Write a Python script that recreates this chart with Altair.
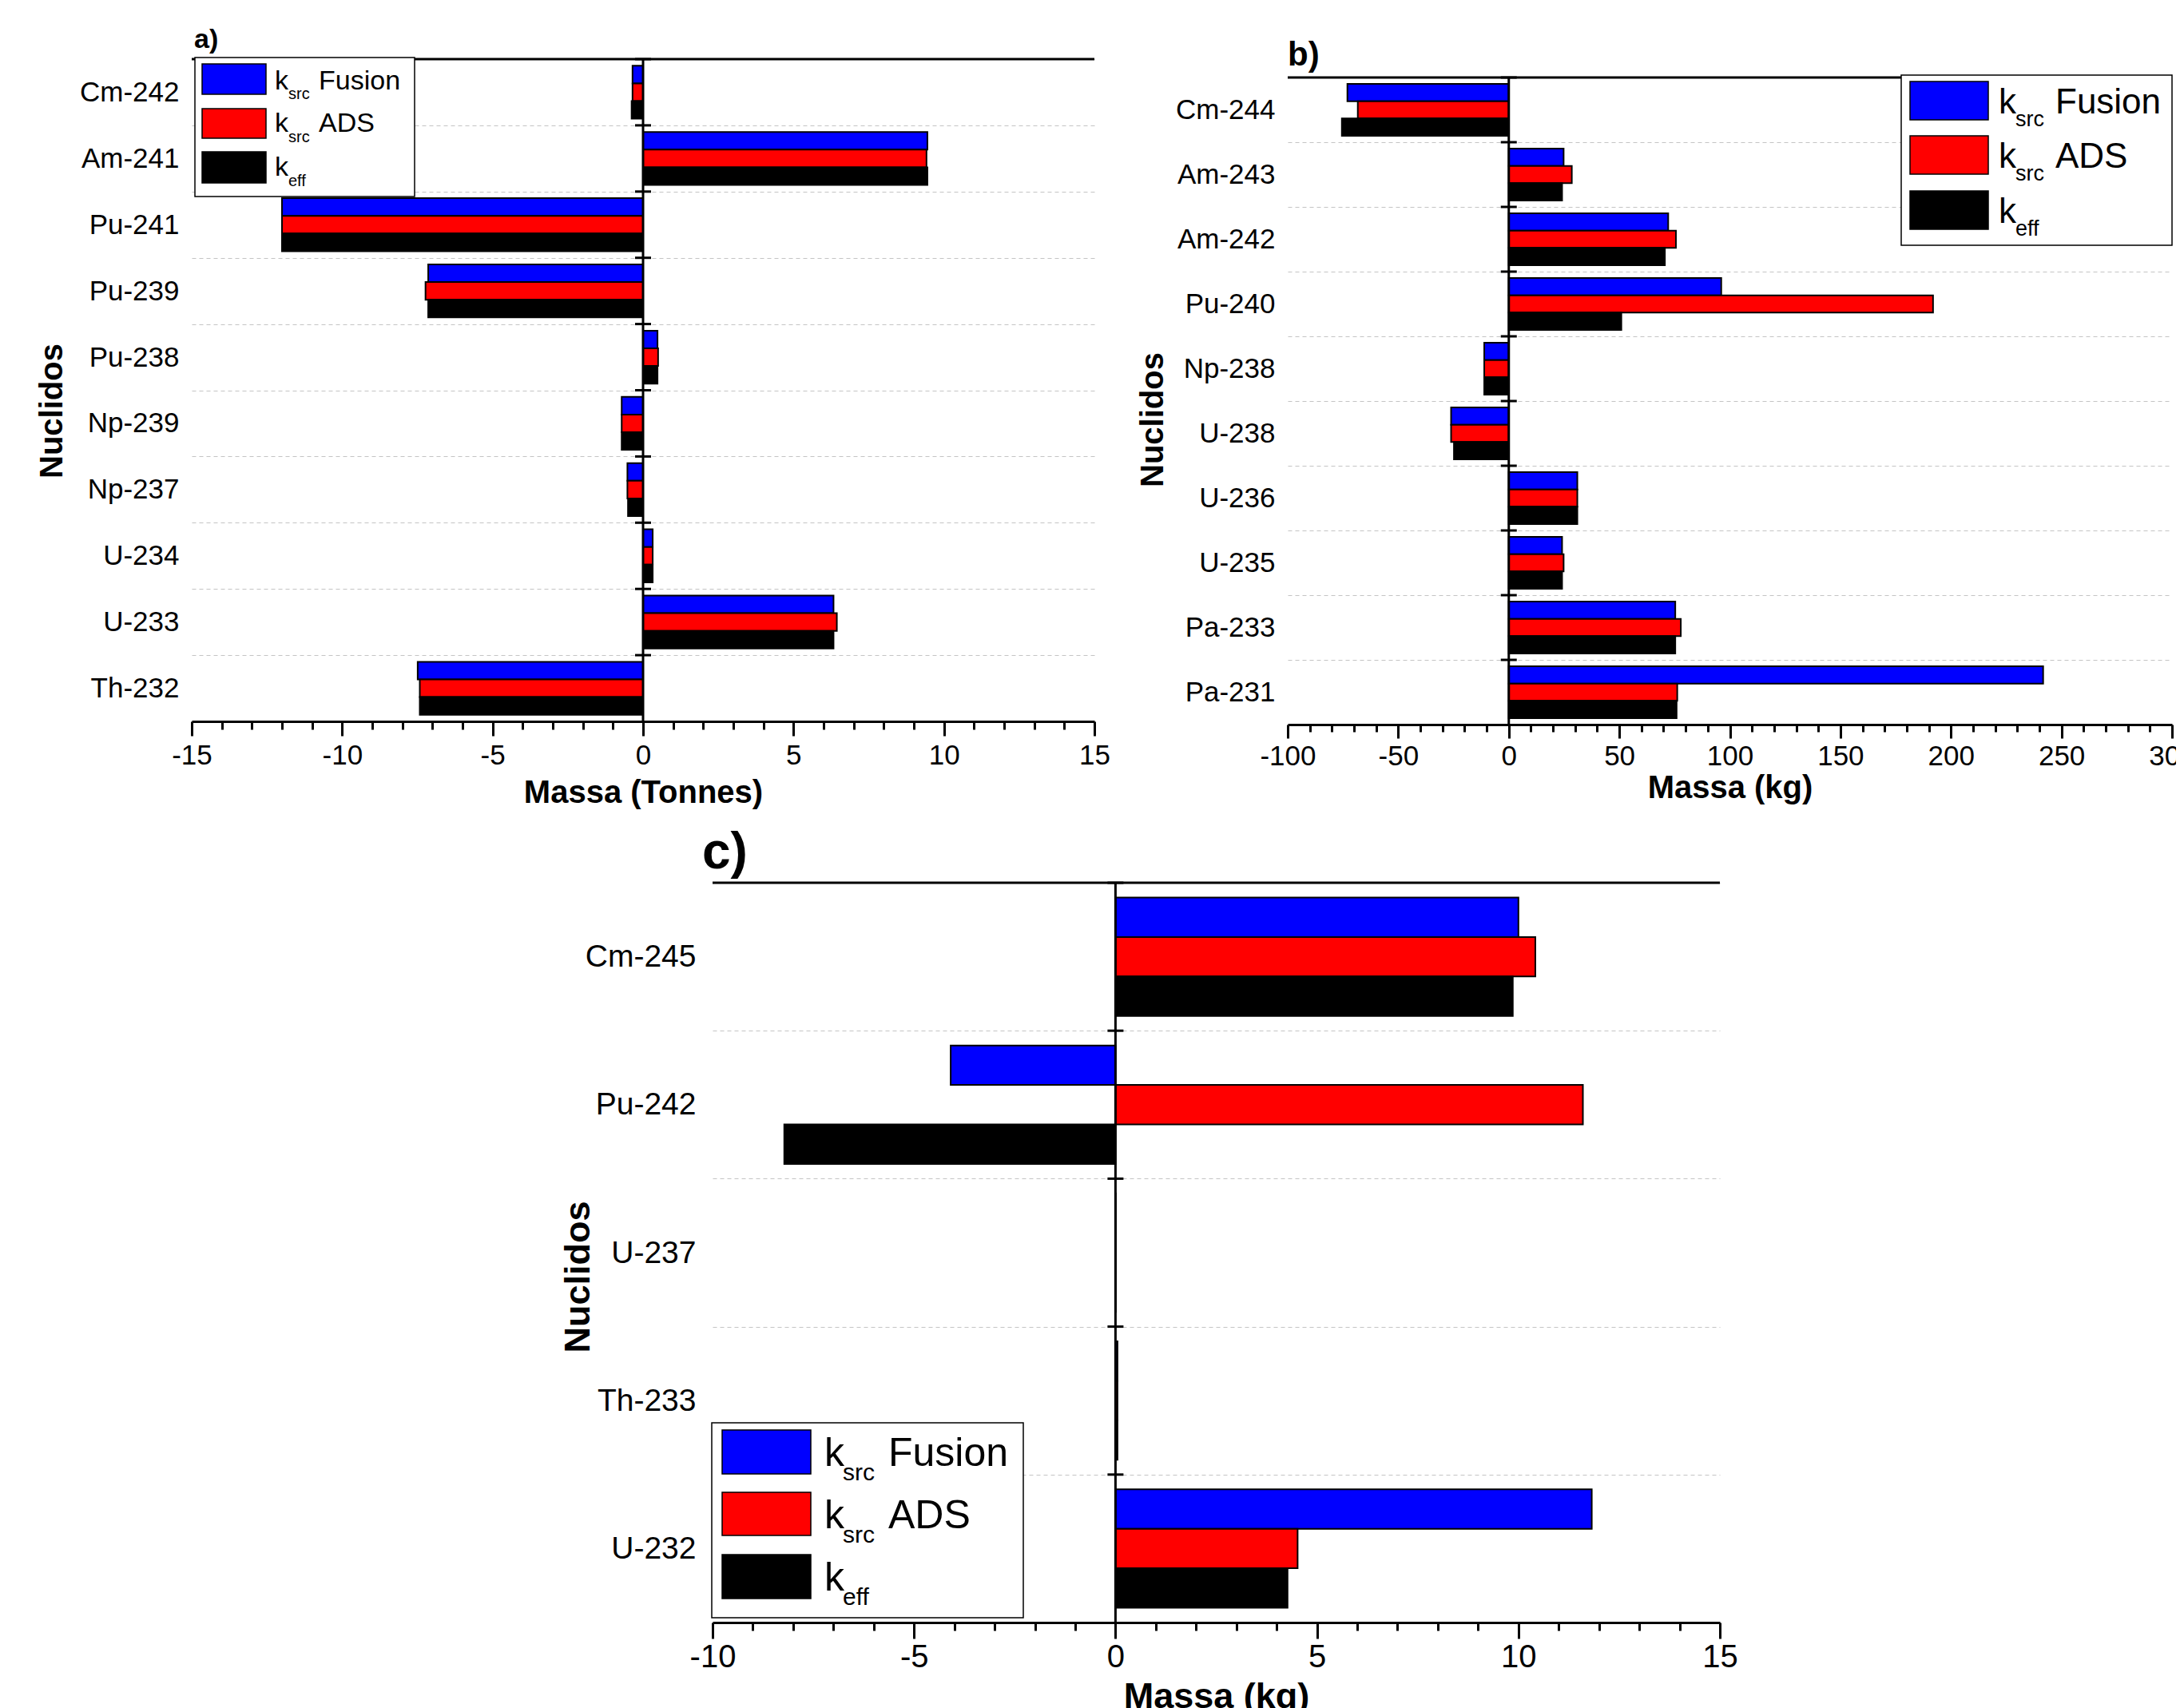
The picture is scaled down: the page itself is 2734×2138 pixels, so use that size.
import altair as alt
import pandas as pd

FONT = "Liberation Sans"

# ---------------- data ----------------
series = ["ksrc Fusion", "ksrc ADS", "keff"]
series_colors = ["#0000ff", "#ff0000", "#000000"]
legend_main = ["k", "k", "k"]
legend_sub = ["src", "src", "eff"]
legend_name = ["Fusion", "ADS", ""]

a_cats = ["Cm-242", "Am-241", "Pu-241", "Pu-239", "Pu-238", "Np-239", "Np-237", "U-234", "U-233", "Th-232"]
a_fusion = [-0.35, 9.45, -12.0, -7.14, 0.48, -0.71, -0.52, 0.32, 6.33, -7.49]
a_ads = [-0.35, 9.42, -12.0, -7.23, 0.50, -0.71, -0.52, 0.32, 6.44, -7.42]
a_keff = [-0.38, 9.45, -12.0, -7.14, 0.48, -0.71, -0.50, 0.32, 6.33, -7.42]

b_cats = ["Cm-244", "Am-243", "Am-242", "Pu-240", "Np-238", "U-238", "U-236", "U-235", "Pa-233", "Pa-231"]
b_fusion = [-73.0, 24.8, 72.1, 96.1, -11.1, -26.1, 31.0, 24.1, 75.3, 241.7]
b_ads = [-68.3, 28.5, 75.6, 191.9, -11.1, -26.1, 31.0, 24.8, 77.8, 76.2]
b_keff = [-75.5, 24.1, 70.6, 50.9, -11.1, -24.8, 31.0, 24.1, 75.3, 75.9]

c_cats = ["Cm-245", "Pu-242", "U-237", "Th-233", "U-232"]
c_fusion = [10.0, -4.09, 0.01, 0.05, 11.82]
c_ads = [10.42, 11.6, 0.01, 0.05, 4.52]
c_keff = [9.86, -8.22, 0.01, 0.05, 4.27]

ONE = pd.DataFrame({"v": [0]})


def long_df(cats, f, a, k):
    rows = []
    for i, c in enumerate(cats):
        for s, v in zip(series, (f[i], a[i], k[i])):
            rows.append({"cat": c, "series": s, "value": v})
    return pd.DataFrame(rows)


def text_layer(txt, x, y, size, weight="normal"):
    return alt.Chart(ONE).mark_text(text=txt, font=FONT, fontSize=size, fontWeight=weight,
                                    align="left", baseline="alphabetic", color="black").encode(
        x=alt.value(x), y=alt.value(y))


def legend_layers(cfg):
    layers = []
    x0, x1, y0, y1 = cfg["box"]
    layers.append(alt.Chart(ONE).mark_rect(fill="white", stroke="black", strokeWidth=1.5).encode(
        x=alt.value(x0), x2=alt.value(x1), y=alt.value(y0), y2=alt.value(y1)))
    sx0, sx1 = cfg["swatch_x"]
    for i in range(3):
        ry0, ry1, base, subbase = cfg["rows"][i]
        layers.append(alt.Chart(ONE).mark_rect(fill=series_colors[i], stroke="black", strokeWidth=1.5).encode(
            x=alt.value(sx0), x2=alt.value(sx1), y=alt.value(ry0), y2=alt.value(ry1)))
        layers.append(text_layer(legend_main[i], cfg["kx"], base, cfg["fs"]))
        layers.append(text_layer(legend_sub[i], cfg["sx"], subbase, cfg["sfs"]))
        if legend_name[i]:
            layers.append(text_layer(legend_name[i], cfg["nx"], base, cfg["fs"]))
    return layers


def panel(cats, f, a, k, p):
    df = long_df(cats, f, a, k)
    W, H, y0 = p["W"], p["H"], p["y0"]
    lo, hi = p["dom"]
    bw = (H - y0) / len(cats)
    xscale = alt.Scale(domain=[lo, hi], nice=False)
    yscale = alt.Scale(domain=cats, range=[y0, H], paddingInner=0, paddingOuter=0)
    tick_vals = list(range(lo, hi + 1, p["minor"]))
    major = p["major"]
    xaxis = alt.Axis(
        values=tick_vals,
        labelExpr=f"datum.value % {major} == 0 ? toString(datum.value) : ''",
        tickSize={"condition": {"test": f"datum.value % {major} == 0", "value": p["tmaj"]}, "value": p["tmin"]},
        tickWidth=3, tickColor="black", domainWidth=3, domainColor="black",
        labelFont=FONT, labelFontSize=p["lfs"], labelColor="black", labelPadding=p["xlp"],
        labelFlush=False, labelOverlap=False, grid=False,
        title=p["xtitle"], titleFont=FONT, titleFontSize=p["tfs"], titleFontWeight="bold",
        titleColor="black", titlePadding=p["xtp"],
    )
    yaxis = alt.Axis(
        title="Nuclidos", titleFont=FONT, titleFontSize=p["ytfs"], titleFontWeight="bold", titleColor="black",
        titleX=p["ytx"], titleY=p["yty"], titleBaseline="alphabetic",
        labelFont=FONT, labelFontSize=p["ylfs"], labelColor="black", labelPadding=p["ylp"],
        ticks=False, tickSize=0, domain=False,
        grid=True, gridDash=[5, 4], gridColor="#c4c4c4", gridWidth=1.2, tickBand="extent",
    )
    bars = alt.Chart(df).mark_bar(stroke="black", strokeWidth=2).encode(
        x=alt.X("value:Q", scale=xscale, axis=xaxis),
        y=alt.Y("cat:N", scale=yscale, axis=yaxis, sort=cats),
        yOffset=alt.YOffset("series:N", scale=alt.Scale(domain=series, range=[0.1 * bw, 0.9 * bw],
                                                        paddingInner=0, paddingOuter=0)),
        color=alt.Color("series:N", scale=alt.Scale(domain=series, range=series_colors), legend=None),
    )
    zero_line = alt.Chart(ONE).mark_rule(color="black", strokeWidth=3).encode(
        x=alt.XDatum(0, axis=xaxis, scale=xscale), y=alt.value(y0), y2=alt.value(H))
    zero_ticks = alt.Chart(pd.DataFrame({"cat": cats})).mark_rule(
        color="black", strokeWidth=3, xOffset=-10, x2Offset=10).encode(
        x=alt.XDatum(0, axis=xaxis, scale=xscale), x2=alt.datum(0),
        y=alt.Y("cat:N", scale=yscale, axis=yaxis, sort=cats, bandPosition=0))
    top_line = alt.Chart(ONE).mark_rule(color="black", strokeWidth=3).encode(
        x=alt.value(0), x2=alt.value(W), y=alt.value(y0))
    ptitle = text_layer(p["ptitle"], p["ptx"], p["pty"], p["ptfs"], "bold")
    layers = [bars, zero_line, zero_ticks, top_line] + legend_layers(p["legend"]) + [ptitle]
    return alt.layer(*layers).properties(width=W, height=H).resolve_scale(yOffset="independent")


pa = panel(a_cats, a_fusion, a_ads, a_keff, dict(
    W=1130, H=829, y0=0, dom=(-15, 15), minor=1, major=5, tmaj=18, tmin=10,
    lfs=35, xlp=7, tfs=40, xtitle="Massa (Tonnes)", xtp=9,
    ytfs=40, ytx=-163, yty=440, ylfs=35, ylp=16,
    ptitle="a)", ptfs=34, ptx=3, pty=-14,
    legend=dict(box=(4, 279, -2, 172), swatch_x=(13, 93),
                rows=[(6, 44, 38, 50), (62, 99, 91, 104), (116, 155, 146, 159)],
                fs=34, sfs=20, kx=104, sx=121, nx=159),
))

pb = panel(b_cats, b_fusion, b_ads, b_keff, dict(
    W=1107, H=833, y0=23, dom=(-100, 300), minor=10, major=50, tmaj=17, tmin=9,
    lfs=35, xlp=5, tfs=40, xtitle="Massa (kg)", xtp=2,
    ytfs=40, ytx=-157, yty=451, ylfs=35, ylp=16,
    ptitle="b)", ptfs=42, ptx=0, pty=8,
    legend=dict(box=(768, 1107, 20, 233), swatch_x=(779, 877),
                rows=[(28, 76, 68, 84), (96, 144, 136, 152), (165, 213, 205, 221)],
                fs=44, sfs=27, kx=890, sx=911, nx=961),
))

pc = panel(c_cats, c_fusion, c_ads, c_keff, dict(
    W=1261, H=926, y0=0, dom=(-10, 15), minor=1, major=5, tmaj=20, tmin=10,
    lfs=40, xlp=3, tfs=45, xtitle="Massa (kg)", xtp=7,
    ytfs=45, ytx=-155, yty=493, ylfs=39, ylp=21,
    ptitle="c)", ptfs=64, ptx=-13, pty=-18,
    legend=dict(box=(-1, 389, 676, 920), swatch_x=(12, 123),
                rows=[(685, 740, 730, 748), (763, 817, 808, 826), (841, 896, 886, 904)],
                fs=50, sfs=30, kx=140, sx=163, nx=220),
))

spacer = alt.Chart(ONE).mark_point(opacity=0).encode(
    x=alt.value(0), y=alt.value(0)).properties(width=461, height=10)

chart = alt.vconcat(
    alt.hconcat(pa, pb, spacing=33).resolve_scale(yOffset="independent"),
    alt.hconcat(spacer, pc, spacing=0).resolve_scale(yOffset="independent"),
    spacing=24,
).resolve_scale(yOffset="independent").properties(
    padding={"left": 37, "top": 25, "right": -25, "bottom": 5},
    background="white",
).configure(font=FONT).configure_view(strokeWidth=0)

chart.save("out.html", embed_options={"renderer": "svg", "actions": False})
